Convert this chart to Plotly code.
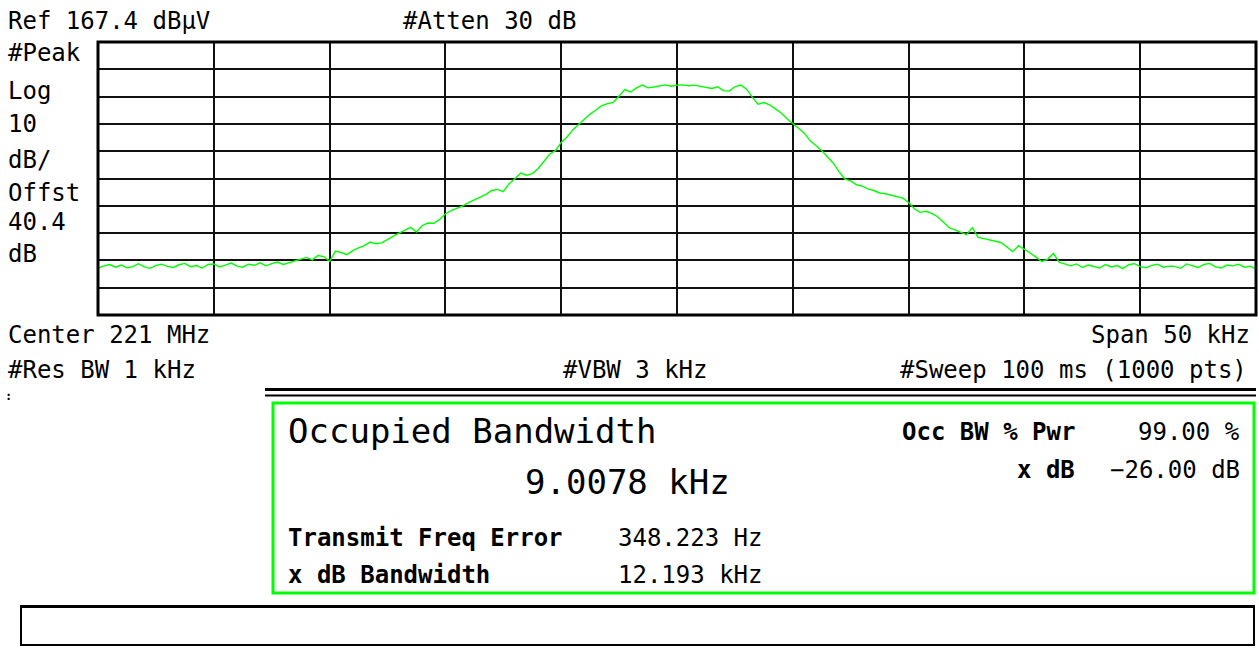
import numpy as np
import plotly.graph_objects as go

# Spectrum sweep: frequency offset from centre (kHz) and measured level (dBuV)
freq_offset_khz = np.linspace(-25.0, 25.0, 201)
level_dbuv = [
    84.6, 85.4, 85.9, 84.9, 85.7, 84.7, 85.1, 86.2, 85.0, 84.5,
    85.6, 86.0, 85.2, 84.8, 85.8, 86.3, 85.1, 85.5, 84.6, 85.9,
    86.1, 85.0, 85.7, 86.4, 85.3, 84.9, 86.0, 85.6, 86.5, 85.4,
    86.2, 86.8, 85.9, 86.6, 87.2, 87.8, 88.5, 87.6, 89.2, 88.8,
    87.0, 90.8, 90.3, 89.5, 91.0, 92.0, 92.8, 94.1, 93.5, 93.8,
    95.2, 96.3, 97.4, 98.6, 99.5, 97.8, 100.2, 101.1, 101.0, 102.4,
    104.5, 105.6, 106.5, 107.4, 108.6, 109.6, 110.8, 111.6, 113.0, 113.4,
    112.6, 115.5, 117.3, 119.4, 118.6, 119.2, 121.0, 123.8, 126.3, 127.6,
    130.6, 132.6, 135.2, 137.2, 139.2, 141.0, 142.5, 144.1, 144.8, 145.3,
    147.6, 150.0, 149.1, 150.6, 151.6, 150.6, 150.9, 151.3, 151.7, 151.2,
    151.6, 151.7, 151.4, 151.6, 151.2, 150.8, 150.4, 151.0, 149.6, 149.4,
    151.0, 151.6, 150.2, 147.2, 144.6, 145.2, 144.4, 142.9, 141.4, 139.3,
    137.4, 135.8, 134.0, 131.2, 129.5, 127.6, 125.3, 123.0, 119.8, 117.2,
    116.5, 115.1, 114.6, 113.6, 113.0, 112.1, 111.8, 111.2, 110.6, 110.2,
    108.6, 106.3, 105.0, 105.4, 104.6, 103.4, 101.5, 99.4, 98.6, 97.8,
    96.8, 99.4, 95.8, 95.4, 95.0, 94.4, 93.9, 92.2, 90.6, 92.8,
    91.6, 90.1, 88.6, 87.0, 87.8, 90.0, 86.8, 86.2, 85.4, 86.1,
    84.8, 85.7, 85.2, 84.6, 85.9, 85.0, 85.5, 84.4, 85.8, 86.2,
    85.1, 84.7, 85.6, 86.0, 84.9, 85.3, 85.2, 84.5, 86.1, 85.4,
    84.8, 85.9, 86.3, 85.0, 84.6, 85.7, 85.4, 86.0, 84.9, 85.3,
    84.2,
]

ref_level = 167.4
db_per_div = 10
span_khz = 50

# Page geometry (pixels) of the graticule
W, H = 1259, 648
L, R, T, B = 98, 1256, 42, 315


def pos(x, y):
    """Pixel position on the page -> paper coordinates."""
    return (x - L) / (R - L), (B - y) / (B - T)


MONO = "DejaVu Sans Mono"
INK = "#000000"
GREEN = "#00ff00"

fig = go.Figure()
fig.add_trace(go.Scatter(
    x=freq_offset_khz, y=level_dbuv, mode="lines",
    line=dict(color=GREEN, width=1.4), hoverinfo="skip", showlegend=False,
))

fig.update_xaxes(
    range=[-span_khz / 2, span_khz / 2], tick0=-span_khz / 2, dtick=span_khz / 10,
    showticklabels=False, ticks="", showgrid=True, gridcolor="#111111", gridwidth=2,
    zeroline=False, showline=False,
)
fig.update_yaxes(
    range=[ref_level - 10 * db_per_div, ref_level], tick0=ref_level, dtick=db_per_div,
    showticklabels=False, ticks="", showgrid=True, gridcolor="#111111", gridwidth=2,
    zeroline=False, showline=False,
)

annotations = []


def label(text, x, y, anchor="left", size=24, bold=False):
    px_, py_ = pos(x, y)
    annotations.append(dict(
        text=f"<b>{text}</b>" if bold else text,
        x=px_, y=py_, xref="paper", yref="paper",
        xanchor=anchor, yanchor="middle", showarrow=False,
        font=dict(family=MONO, size=size, color=INK),
    ))


# Instrument header and graticule labels
label("Ref 167.4 dBµV", 6, 21)
label("#Atten 30 dB", 401, 21)
for txt, yy in [("#Peak", 53), ("Log", 91), ("10", 124), ("dB/", 160),
                ("Offst", 193), ("40.4", 222), ("dB", 254)]:
    label(txt, 6, yy)
label("Center 221 MHz", 6, 335)
label("Span 50 kHz", 1252, 335, anchor="right")
label("#Res BW 1 kHz", 6, 370)
label("#VBW 3 kHz", 561, 370)
label("#Sweep 100 ms (1000 pts)", 1249, 370, anchor="right")
label(":", 3, 396, size=12, bold=True)

# Measurement panel
label("Occupied Bandwidth", 286, 431, size=34)
label("9.0078 kHz", 732, 482, anchor="right", size=34)
label("Transmit Freq Error", 286, 538, bold=True)
label("x dB Bandwidth", 286, 575, bold=True)
label("348.223 Hz", 616, 538)
label("12.193 kHz", 616, 575)
label("Occ BW % Pwr", 1077, 432, anchor="right", bold=True)
label("99.00 %", 1242, 432, anchor="right")
label("x dB", 1077, 470, anchor="right", bold=True)
label("−26.00 dB", 1242, 470, anchor="right")

shapes = []


def rect(x0, y0, x1, y1, color, width):
    a0, b0 = pos(x0, y0)
    a1, b1 = pos(x1, y1)
    shapes.append(dict(type="rect", xref="paper", yref="paper",
                       x0=a0, y0=b1, x1=a1, y1=b0,
                       line=dict(color=color, width=width), fillcolor="rgba(0,0,0,0)"))


def hline(x0, x1, y, color, width):
    a0, b = pos(x0, y)
    a1, _ = pos(x1, y)
    shapes.append(dict(type="line", xref="paper", yref="paper",
                       x0=a0, y0=b, x1=a1, y1=b, line=dict(color=color, width=width)))


# Graticule frame
shapes.append(dict(type="rect", xref="paper", yref="paper", x0=0, y0=0, x1=1, y1=1,
                   line=dict(color=INK, width=3)))
# Double rule above the measurement panel
hline(265, 1256, 389.5, INK, 3)
hline(265, 1256, 395.5, INK, 2)
# Measurement panel box
rect(273, 403, 1254, 593, GREEN, 3)
# Empty message box at the bottom
rect(21, 607, 1254, 645, INK, 2)
hline(20, 1255, 606.5, INK, 3)

fig.update_layout(
    width=W, height=H,
    margin=dict(l=L, r=W - R, t=T, b=H - B),
    paper_bgcolor="white", plot_bgcolor="white",
    annotations=annotations, shapes=shapes,
    showlegend=False,
)

fig.write_html("out.html")
